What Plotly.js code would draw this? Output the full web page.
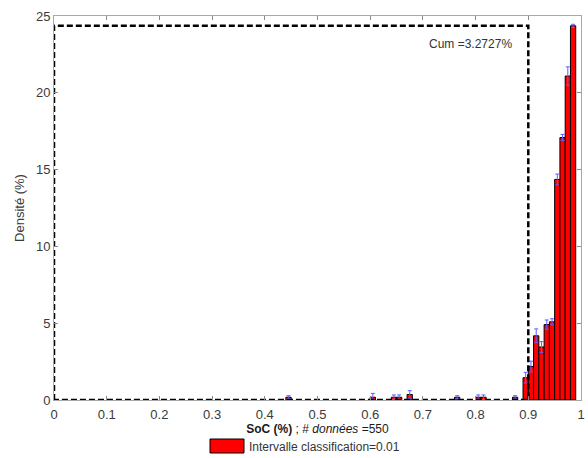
<!DOCTYPE html>
<html>
<head>
<meta charset="utf-8">
<script src="https://cdn.plot.ly/plotly-3.0.1.min.js"></script>
<style>html,body{margin:0;padding:0;background:#fff;}#chart{width:588px;height:458px;}</style>
</head>
<body>
<div id="chart"></div>
<script>
// Bin centres (interval 0.01), density values (%) and error half-widths
var binCenters = [0.445, 0.605, 0.645, 0.655, 0.675, 0.765, 0.805, 0.815, 0.875,
                  0.895, 0.905, 0.915, 0.925, 0.935, 0.945, 0.955, 0.965, 0.975, 0.985];
var density    = [0.18, 0.18, 0.18, 0.18, 0.36, 0.18, 0.18, 0.18, 0.18,
                  1.45, 2.18, 4.18, 3.45, 4.91, 5.09, 14.36, 17.09, 21.09, 24.36];
var errors     = [0.1, 0.25, 0.15, 0.15, 0.25, 0.1, 0.15, 0.15, 0.1,
                  0.35, 0.35, 0.45, 0.35, 0.3, 0.2, 0.35, 0.2, 0.6, 0.1];
var binWidth = 0.01;
var threshold = 0.9;
var cumText = "Cum =3.2727%";
var seriesName = "Intervalle classification=0.01";
var xTickVals = [0, 0.1, 0.2, 0.3, 0.4, 0.5, 0.6, 0.7, 0.8, 0.9, 1];
var xTickText = ["0", "0.1", "0.2", "0.3", "0.4", "0.5", "0.6", "0.7", "0.8", "0.9", "1"];
var yTickVals = [0, 5, 10, 15, 20, 25];

var maxD = Math.max.apply(null, density);

var bars = {
  type: 'bar', x: binCenters, y: density, width: binWidth, name: seriesName,
  marker: {color: '#ff0000', line: {color: '#000000', width: 1}},
  error_y: {type: 'data', array: errors, visible: true, color: '#5f5fff', thickness: 1, width: 2},
  showlegend: false, hoverinfo: 'x+y'
};
var rect = {
  type: 'scatter', mode: 'lines',
  x: [0, 0, threshold, threshold, 0], y: [0, maxD, maxD, 0, 0],
  line: {color: '#000000', width: 2.5, dash: '6px,3px'},
  showlegend: false, hoverinfo: 'skip', cliponaxis: false
};

var font = {family: 'Liberation Sans, Arial, sans-serif', size: 13, color: '#3a3a3a'};
var layout = {
  width: 588, height: 458,
  margin: {l: 54, r: 7, t: 16, b: 58},
  paper_bgcolor: '#ffffff', plot_bgcolor: '#ffffff',
  font: font, showlegend: false, bargap: 0,
  xaxis: {
    range: [0, 1], tickmode: 'array', tickvals: xTickVals, ticktext: xTickText,
    ticks: 'inside', ticklen: 4, tickcolor: '#8a8a8a', showline: true, linecolor: '#a8a8a8',
    linewidth: 1, mirror: 'ticks', showgrid: false, zeroline: false, ticklabelstandoff: 2,
    tickfont: {family: font.family, size: 13, color: '#3a3a3a'},
    title: {text: '<b>SoC (%)</b> ; # <i>données</i> =550', standoff: 3,
            font: {family: font.family, size: 12, color: '#1a1a1a'}}
  },
  yaxis: {
    range: [0, 25], tickmode: 'array', tickvals: yTickVals,
    ticks: 'inside', ticklen: 4, tickcolor: '#8a8a8a', showline: true, linecolor: '#a8a8a8',
    linewidth: 1, mirror: 'ticks', showgrid: false, zeroline: false,
    tickfont: {family: font.family, size: 13, color: '#3a3a3a'},
    title: {text: 'Densité (%)', standoff: 8, font: {family: font.family, size: 13, color: '#3a3a3a'}}
  },
  annotations: [
    {x: 0.872, y: 23.2, xref: 'x', yref: 'y', text: cumText, showarrow: false, xanchor: 'right',
     yanchor: 'middle', font: {family: font.family, size: 12, color: '#333333'}}
  ],
  shapes: []
};
// legend drawn as a paper-positioned swatch + label
var plotW = 588 - 54 - 7, plotH = 458 - 16 - 58;
function px2paperX(px) { return (px - 54) / plotW; }
function px2paperY(py) { return (458 - 58 - py) / plotH; }
layout.annotations.push({x: px2paperX(247), y: px2paperY(447), xref: 'paper', yref: 'paper',
  text: seriesName, showarrow: false, xanchor: 'left', yanchor: 'middle',
  font: {family: font.family, size: 12, color: '#333333'}});
layout.shapes.push({type: 'rect', xref: 'paper', yref: 'paper',
  x0: px2paperX(210), x1: px2paperX(244), y0: px2paperY(453), y1: px2paperY(439),
  fillcolor: '#ff0000', line: {color: '#000000', width: 1}});

Plotly.newPlot('chart', [bars, rect], layout, {staticPlot: true, displayModeBar: false});
</script>
</body>
</html>
